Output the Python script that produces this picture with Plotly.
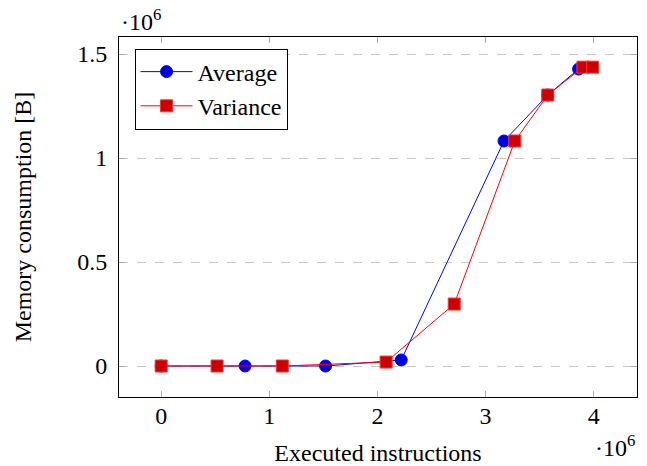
import plotly.graph_objects as go

# values in units of 10^6
avg_x = [0, 0.776, 1.52, 2.22, 3.17, 3.575, 3.86]
avg_y = [0, 0, 0, 0.029, 1.082, 1.303, 1.428]
var_x = [0, 0.517, 1.12, 2.08, 2.71, 3.27, 3.575, 3.90, 3.99]
var_y = [0, 0, 0, 0.019, 0.298, 1.082, 1.303, 1.437, 1.437]
x_ticks = [0, 1, 2, 3, 4]
x_tick_labels = ["0", "1", "2", "3", "4"]
y_ticks = [0, 0.5, 1, 1.5]
y_tick_labels = ["0", "0.5", "1", "1.5"]

FONT = "Liberation Serif"
FS = 24

fig = go.Figure()
fig.add_trace(go.Scatter(
    x=avg_x, y=avg_y, name="Average", mode="lines+markers",
    line=dict(color="#0000ff", width=1),
    marker=dict(symbol="circle", size=12, color="#0000dd", line=dict(color="#0000ff", width=1)),
))
fig.add_trace(go.Scatter(
    x=var_x, y=var_y, name="Variance", mode="lines+markers",
    line=dict(color="#ff0000", width=1),
    marker=dict(symbol="square", size=12, color="#cc0000", line=dict(color="#ff3333", width=1)),
))

axis_common = dict(
    showline=True, linecolor="black", linewidth=1, mirror="ticks",
    ticks="inside", ticklen=6, tickcolor="#aaaaaa", tickwidth=1,
    zeroline=False, automargin=False,
    tickfont=dict(family=FONT, size=FS, color="black"),
)
fig.update_xaxes(range=[-0.39, 4.4], tickvals=x_ticks, ticktext=x_tick_labels,
                 showgrid=False, ticklabelstandoff=-3,
                 title=dict(text="Executed instructions", font=dict(family=FONT, size=FS, color="black"), standoff=28),
                 **axis_common)
fig.update_yaxes(range=[-0.149, 1.582], tickvals=y_ticks, ticktext=y_tick_labels,
                 showgrid=True, gridcolor="#c8c8c8", griddash="dash", gridwidth=1,
                 ticklabelstandoff=6,
                 title=dict(text="Memory consumption [B]", font=dict(family=FONT, size=FS, color="black"), standoff=38),
                 **axis_common)

fig.update_layout(
    width=647, height=466,
    margin=dict(l=119, r=10, t=37, b=69, autoexpand=False),
    paper_bgcolor="white", plot_bgcolor="white",
    font=dict(family=FONT, size=FS, color="black"),
    showlegend=True,
    legend=dict(x=0.03, y=0.968, xanchor="left", yanchor="top",
                bordercolor="black", borderwidth=1, bgcolor="white",
                font=dict(family=FONT, size=FS), itemwidth=52, tracegroupgap=0),
    annotations=[
        dict(text="·10<sup>6</sup>", xref="paper", yref="paper", x=0, y=1.0,
             xanchor="left", yanchor="bottom", showarrow=False,
             font=dict(family=FONT, size=FS), yshift=0),
        dict(text="·10<sup>6</sup>", xref="paper", yref="paper", x=1.0, y=0,
             xanchor="right", yanchor="top", showarrow=False,
             font=dict(family=FONT, size=FS), yshift=-32),
    ],
)

fig.write_html("out.html")
